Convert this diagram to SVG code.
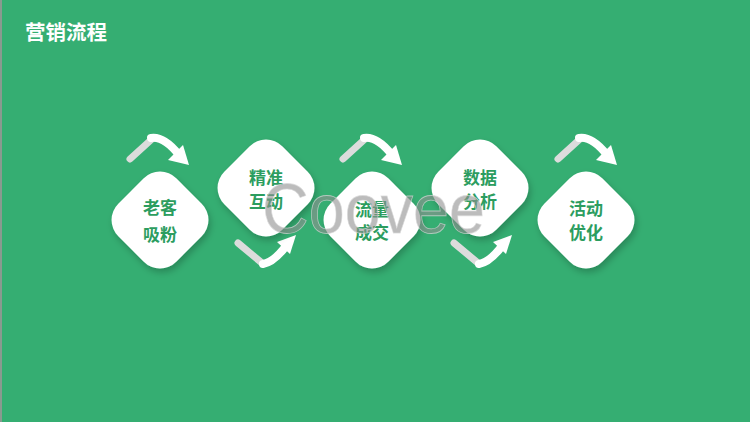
<svg xmlns="http://www.w3.org/2000/svg" width="750" height="422" viewBox="0 0 750 422">
  <defs>
    <filter id="sh" x="-30%" y="-30%" width="160%" height="160%">
      <feDropShadow dx="2" dy="4" stdDeviation="3.5" flood-color="#000" flood-opacity="0.22"/>
    </filter>
    <rect id="dia" x="-41" y="-41" width="82" height="82" rx="23" ry="23" transform="rotate(45)"/>
    <g id="arrowTop">
      <line x1="130" y1="159" x2="152" y2="139" stroke="#dcdcdc" stroke-width="7" stroke-linecap="round"/>
      <path d="M151,138 Q164,136 179,155" fill="none" stroke="#ffffff" stroke-width="8" stroke-linecap="round"/>
      <polygon points="189,165 183,145 168,160" fill="#ffffff"/>
    </g>
    <g id="arrowBot">
      <line x1="238" y1="243" x2="262" y2="263" stroke="#dcdcdc" stroke-width="7" stroke-linecap="round"/>
      <path d="M263,264 Q274,262 286,246" fill="none" stroke="#ffffff" stroke-width="8" stroke-linecap="round"/>
      <polygon points="296,235 277,242 290,254" fill="#ffffff"/>
    </g>
  </defs>
  <style>
    .node { fill: #ffffff; filter: url(#sh); }
    .lbl { font-family: "Noto Sans CJK SC", "Noto Sans", sans-serif; font-size: 17px; font-weight: bold; fill: #2c9d5f; text-anchor: middle; }
    .title { font-family: "Noto Sans CJK SC", "Noto Sans", sans-serif; font-size: 20.5px; font-weight: bold; fill: #ffffff; }
    .wm { font-family: "Liberation Sans", Arial, sans-serif; font-size: 70px; fill: #8f8f8f; fill-opacity: 0.6; stroke: #d8d8d8; stroke-opacity: 0.7; stroke-width: 0.8; }
  </style>

  <rect x="0" y="0" width="750" height="422" fill="#35ae72"/>
  <line x1="1" y1="0" x2="1" y2="422" stroke="#8a9a90" stroke-width="2"/>

  <text class="title" x="25" y="40">营销流程</text>

  <g id="connectors">
    <use href="#arrowTop"/>
    <use href="#arrowTop" transform="translate(213,0)"/>
    <use href="#arrowTop" transform="translate(428,0)"/>
    <use href="#arrowBot"/>
    <use href="#arrowBot" transform="translate(216,0)"/>
  </g>

  <g id="node1">
    <use href="#dia" class="node" transform="translate(160,220)"/>
    <text class="lbl" x="160" y="214">老客</text>
    <text class="lbl" x="160" y="241">吸粉</text>
  </g>
  <g id="node2">
    <use href="#dia" class="node" transform="translate(266,188)"/>
    <text class="lbl" x="266" y="184">精准</text>
    <text class="lbl" x="266" y="208">互动</text>
  </g>
  <g id="node3">
    <use href="#dia" class="node" transform="translate(372,220)"/>
    <text class="lbl" x="372" y="216">流量</text>
    <text class="lbl" x="372" y="239">成交</text>
  </g>
  <g id="node4">
    <use href="#dia" class="node" transform="translate(480,188)"/>
    <text class="lbl" x="480" y="184">数据</text>
    <text class="lbl" x="480" y="208">分析</text>
  </g>
  <g id="node5">
    <use href="#dia" class="node" transform="translate(586,220)"/>
    <text class="lbl" x="586" y="215">活动</text>
    <text class="lbl" x="586" y="239">优化</text>
  </g>

  <text class="wm" x="262" y="233" textLength="223" lengthAdjust="spacingAndGlyphs">Coovee</text>
</svg>
